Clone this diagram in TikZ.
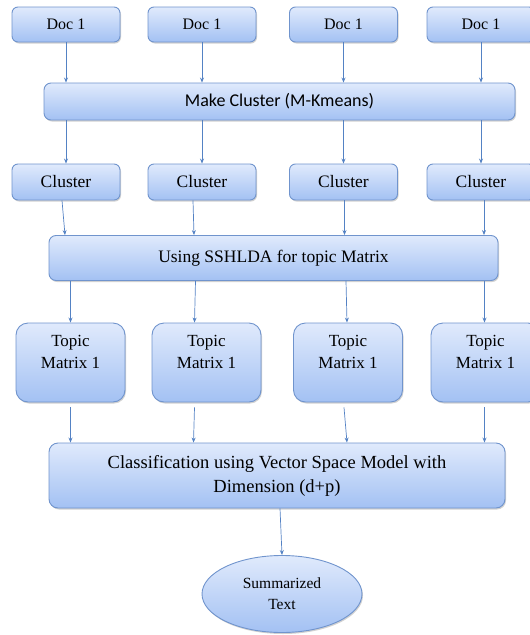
\documentclass[tikz,border=0pt]{standalone}
\usepackage{fontspec}
\setmainfont{Liberation Serif}
\newfontfamily\calib{Carlito}
\usetikzlibrary{arrows.meta,shadows,shapes.geometric}
\definecolor{bordc}{RGB}{112,148,205}
\definecolor{topc}{RGB}{224,234,252}
\definecolor{botc}{RGB}{163,193,243}
\definecolor{arrc}{RGB}{84,130,196}
\tikzset{
  boxbase/.style={draw=bordc, line width=0.9pt, top color=topc, bottom color=botc,
    drop shadow={shadow xshift=1pt, shadow yshift=-1.5pt, fill=black!40, opacity=0.45},
    inner sep=0pt, align=center},
  smallbox/.style={boxbase, rounded corners=6pt, minimum width=108pt, minimum height=35pt, font=\fontsize{16}{18}\selectfont},
  widebox/.style={boxbase, rounded corners=7pt},
  topicbox/.style={boxbase, rounded corners=12pt, minimum width=109pt, minimum height=79pt,
    font=\fontsize{17}{22}\selectfont, text depth=22pt},
  endell/.style={boxbase, ellipse, minimum width=160pt, minimum height=77pt, font=\fontsize{15.5}{21}\selectfont},
  conn/.style={draw=arrc, line width=0.7pt, -{Stealth[length=5pt,width=4pt]}}
}
\begin{document}
\begin{tikzpicture}[x=1pt,y=-1pt]
\useasboundingbox (0,0) rectangle (530,635);
\clip (0,0) rectangle (530,635);
% docs
\node[smallbox] (d1) at (66,24.5) {Doc 1};
\node[smallbox] (d2) at (202,24.5) {Doc 1};
\node[smallbox] (d3) at (343.5,24.5) {Doc 1};
\node[smallbox] (d4) at (481,24.5) {Doc 1};
% make cluster
\node[widebox, minimum width=471pt, minimum height=37pt, font=\calib\fontsize{18}{20}\selectfont] (mc) at (279.5,101.5) {Make Cluster (M-Kmeans)};
% clusters
\node[smallbox, minimum height=36pt, font=\fontsize{17.5}{19}\selectfont] (c1) at (66,182) {Cluster};
\node[smallbox, minimum height=36pt, font=\fontsize{17.5}{19}\selectfont] (c2) at (202,182) {Cluster};
\node[smallbox, minimum height=36pt, font=\fontsize{17.5}{19}\selectfont] (c3) at (343.5,182) {Cluster};
\node[smallbox, minimum height=36pt, font=\fontsize{17.5}{19}\selectfont] (c4) at (481,182) {Cluster};
% sshlda
\node[widebox, minimum width=449pt, minimum height=45pt, font=\fontsize{17.5}{19}\selectfont] (ss) at (273.5,258) {Using SSHLDA for topic Matrix};
% topics
\node[topicbox] (t1) at (70.5,362.5) {Topic\\Matrix 1};
\node[topicbox] (t2) at (206.5,362.5) {Topic\\Matrix 1};
\node[topicbox] (t3) at (348,362.5) {Topic\\Matrix 1};
\node[topicbox] (t4) at (485.5,362.5) {Topic\\Matrix 1};
% classification
\node[widebox, rounded corners=9pt, minimum width=456pt, minimum height=65pt, font=\fontsize{18.5}{24}\selectfont] (cl) at (277,475.5) {Classification using Vector Space Model with\\Dimension (d+p)};
% ellipse
\node[endell] (st) at (282,594) {Summarized\\Text};
% connectors
\foreach \i in {1,2,3,4}{
  \draw[conn] (d\i.south) -- (d\i.south |- mc.north);
  \draw[conn] (d\i.south |- mc.south) -- (c\i.north);
}
\draw[conn] ([xshift=-4pt]c1.south) -- ([xshift=-1pt]c1.south |- ss.north);
\draw[conn] ([xshift=-9pt]c2.south) -- ([xshift=-8pt]c2.south |- ss.north);
\draw[conn] ([xshift=1pt]c3.south) -- ([xshift=1pt]c3.south |- ss.north);
\draw[conn] ([xshift=3pt]c4.south) -- ([xshift=3pt]c4.south |- ss.north);
\draw[conn] (t1.north |- ss.south) -- (t1.north);
\draw[conn] ([xshift=-11pt]t2.north |- ss.south) -- ([xshift=-12pt]t2.north);
\draw[conn] ([xshift=-2pt]t3.north |- ss.south) -- ([xshift=-1pt]t3.north);
\draw[conn] ([xshift=-1pt]t4.north |- ss.south) -- ([xshift=-1pt]t4.north);
\draw[conn] ([yshift=-5pt]t1.south) -- (t1.south |- cl.north);
\draw[conn] ([xshift=-12pt,yshift=-5pt]t2.south) -- ([xshift=-13pt]t2.south |- cl.north);
\draw[conn] ([xshift=-4pt,yshift=-5pt]t3.south) -- ([xshift=-1pt]t3.south |- cl.north);
\draw[conn] ([xshift=-1pt,yshift=-5pt]t4.south) -- ([xshift=-1pt]t4.south |- cl.north);
\draw[conn] ([xshift=3pt]cl.south) -- (st.north);
\end{tikzpicture}
\end{document}
